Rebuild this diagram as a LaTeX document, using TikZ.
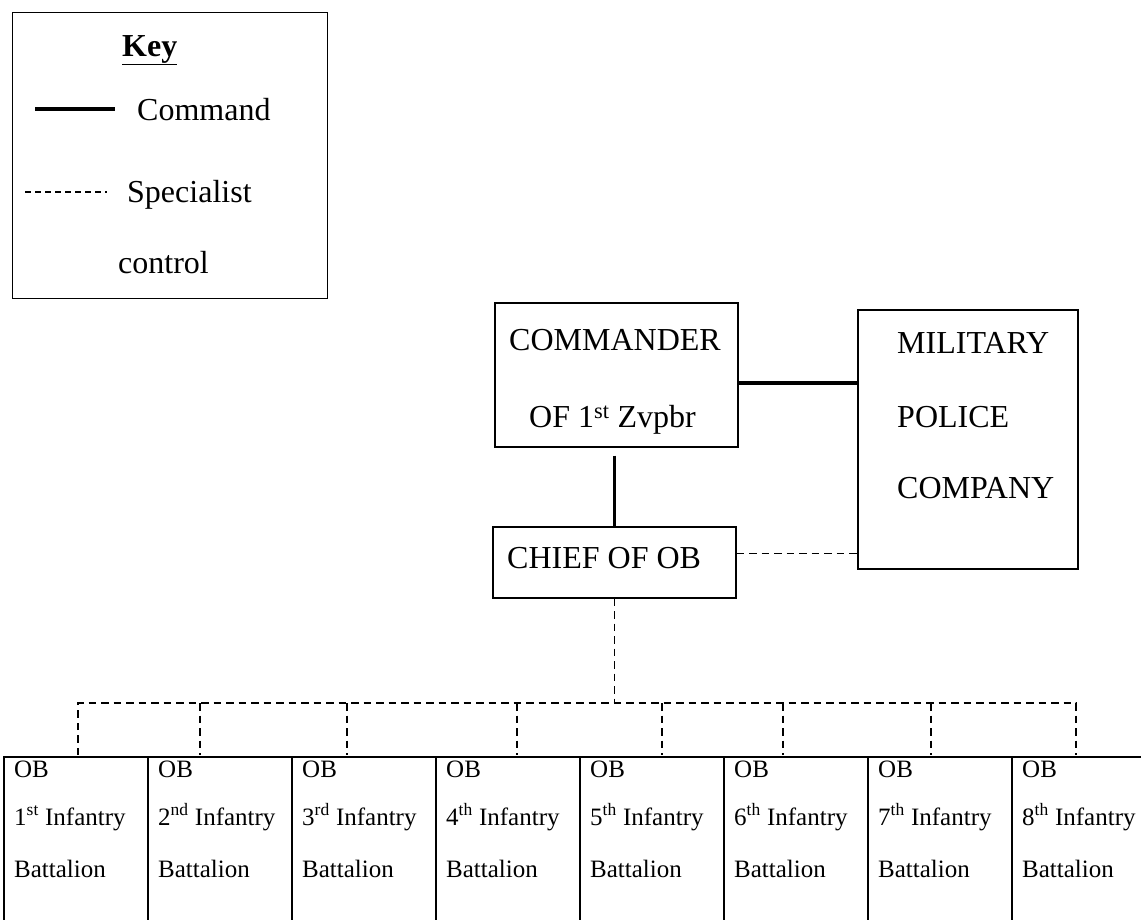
\documentclass[tikz,border=0pt]{standalone}
\usepackage{fontspec}
\setmainfont{Liberation Serif}
\begin{document}
\begin{tikzpicture}[x=1pt,y=-1pt,
  box/.style={draw, line width=1.4pt, inner sep=0pt},
  cmdline/.style={line width=3.6pt},
  spec/.style={line width=1.8pt, dash pattern=on 7.5pt off 5pt},
  keyspec/.style={line width=1.6pt, dash pattern=on 6pt off 4pt},
  edge/.style={line width=1.4pt},
  big/.style={font=\fontsize{32}{38}\selectfont, inner sep=0pt},
  small/.style={font=\fontsize{25}{30}\selectfont, inner sep=0pt, anchor=base west},
  cell/.style={minimum width=144pt, minimum height=172pt, inner sep=0pt, anchor=north west},
]
\useasboundingbox (0,0) rectangle (1141,919);

% Key
\node[box, anchor=north west, minimum width=315pt, minimum height=286pt] (key) at (12,12) {};
\node[big, anchor=base west] (keytitle) at (122,56) {\underline{\textbf{Key}}};
\coordinate (ks1) at (35,109);
\coordinate (ks2) at (115,109);
\draw[cmdline] (ks1) -- (ks2);
\node[big, anchor=base west] (keycmd) at (137,120.6) {Command};
\coordinate (kd1) at (25,192);
\coordinate (kd2) at (107,192);
\draw[keyspec] (kd1) -- (kd2);
\node[big, anchor=base west] (keyspec) at (127,202.6) {Specialist};
\node[big, anchor=base west] (keyctl) at (118,273) {control};

% Commander
\node[box, minimum width=243pt, minimum height=144pt] (cmd) at (616.5,375) {};
\node[big, anchor=base] (cmdt1) at (615,350.6) {COMMANDER};
\node[big, anchor=base] (cmdt2) at (612.5,427.6) {OF 1\textsuperscript{st} Zvpbr};

% Military police
\node[box, minimum width=220pt, minimum height=259pt] (mp) at (968,439.5) {};
\node[big, anchor=base west] (mpt1) at (897,353.6) {MILITARY};
\node[big, anchor=base west] (mpt2) at (897,427.6) {POLICE};
\node[big, anchor=base west] (mpt3) at (897,498.6) {COMPANY};

% Chief of OB
\node[box, minimum width=243pt, minimum height=71pt] (chief) at (614.5,562.5) {};
\node[big, anchor=base west] (chieft) at (507,568.6) {CHIEF OF OB};

% Command connectors
\draw[cmdline] ([yshift=-8pt]cmd.east) -- ([yshift=-8pt]cmd.east -| mp.west);
\draw[cmdline] ([yshift=-8pt]cmd.south -| chief.north) -- (chief.north);

% Specialist control connectors
\draw[spec] ([yshift=9pt]chief.east) -- ([yshift=9pt]chief.east -| mp.west);

% Battalion cells
\foreach \i/\s in {1/st,2/nd,3/rd,4/th,5/th,6/th,7/th,8/th}{
  \node[cell] (b\i) at ({4+144*(\i-1)},757) {};
  \draw[edge] (b\i.south west) -- (b\i.north west) -- (b\i.north east);
  \node[small] (ob\i) at ({14+144*(\i-1)},777) {OB};
  \node[small] (inf\i) at ({14+144*(\i-1)},825) {\i\textsuperscript{\s} Infantry};
  \node[small] (bat\i) at ({14+144*(\i-1)},877) {Battalion};
}

% Bus
\foreach \i/\x in {1/78,2/200,3/347,4/517,5/662,6/783,7/931,8/1076}{
  \coordinate (d\i) at (\x,703);
}
\draw[spec] (chief.south) -- (chief.south |- d1);
\draw[spec] ([yshift=2pt]d1 |- b1.north) -- (d1) -- (d8) -- ([yshift=2pt]d8 |- b8.north);
\foreach \i in {2,...,7}{
  \draw[spec] (d\i) -- ([yshift=2pt]d\i |- b\i.north);
}
\end{tikzpicture}
\end{document}
